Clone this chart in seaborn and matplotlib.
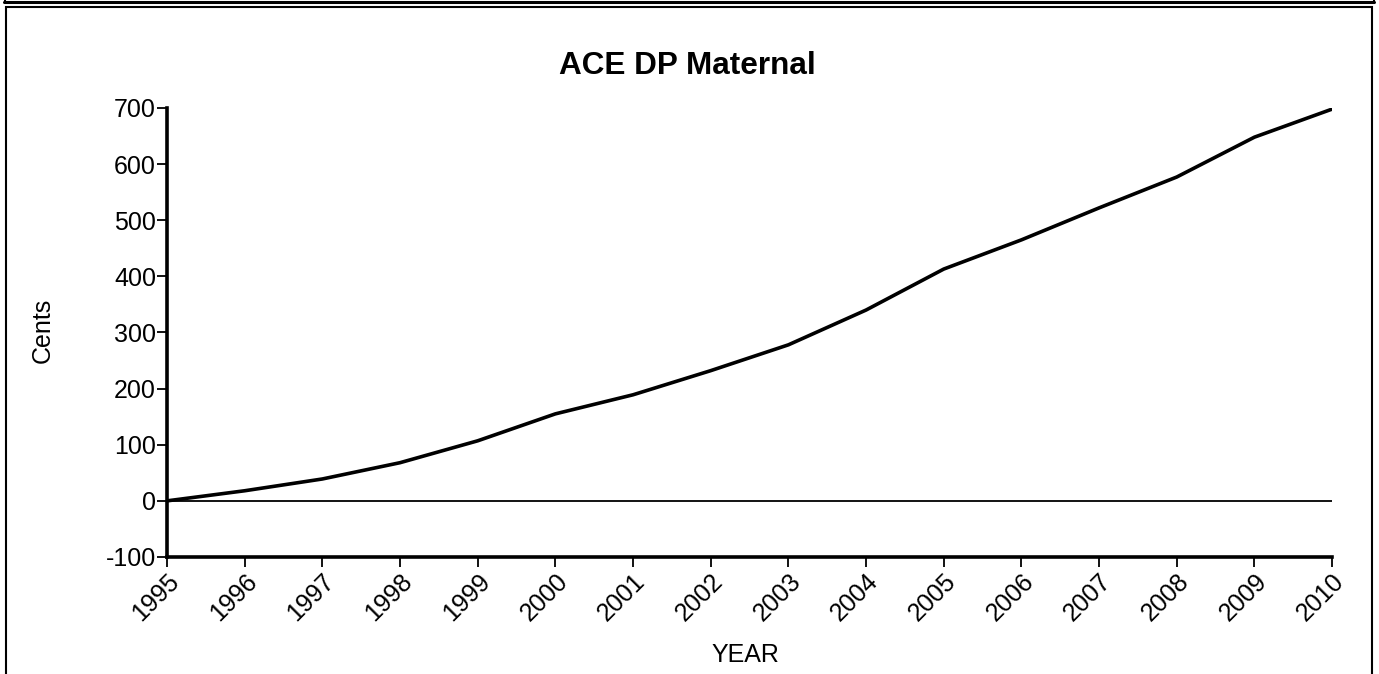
import pandas as pd
import matplotlib.pyplot as plt
import seaborn as sns
from matplotlib.patches import Rectangle
from matplotlib.lines import Line2D

# Данные
years = [1995, 1996, 1997, 1998, 1999, 2000, 2001, 2002,
         2003, 2004, 2005, 2006, 2007, 2008, 2009, 2010]
cents = [0, 18, 39, 68, 107, 155, 189, 232,
         278, 340, 413, 465, 522, 577, 648, 698]
y_ticks = [-100, 0, 100, 200, 300, 400, 500, 600, 700]

data = pd.DataFrame({'YEAR': years, 'Cents': cents})

sns.set_style("ticks")
plt.rcParams['font.family'] = ['Liberation Sans', 'DejaVu Sans']
plt.rcParams['text.color'] = 'black'
plt.rcParams['xtick.color'] = 'black'
plt.rcParams['ytick.color'] = 'black'
plt.rcParams['axes.labelcolor'] = 'black'

fig = plt.figure(figsize=(13.79, 6.74), dpi=100)
ax = fig.add_axes([0.1211, 0.1736, 0.966 - 0.1211, 0.8398 - 0.1736])

ax.axhline(0, color='black', linewidth=1.3, zorder=1)
sns.lineplot(data=data, x='YEAR', y='Cents', color='black', linewidth=2.6, ax=ax, zorder=3)

ax.set_xlim(1995, 2010)
ax.set_ylim(-100, 700)
ax.set_xticks(years)
ax.set_xticklabels([str(y) for y in years], rotation=45, ha='right',
                   rotation_mode='anchor', fontsize=18)
ax.set_yticks(y_ticks)
ax.set_yticklabels([str(v) for v in y_ticks], fontsize=18)
ax.tick_params(axis='both', direction='out', length=7, width=1.3, pad=1)
ax.tick_params(axis='x', pad=2)

for s in ['top', 'right']:
    ax.spines[s].set_visible(False)
for s in ['left', 'bottom']:
    ax.spines[s].set_linewidth(2.6)
    ax.spines[s].set_color('black')

ax.set_xlabel('')
ax.set_ylabel('')
fig.text(0.4982, 0.902, 'ACE DP Maternal', fontsize=22.7, fontweight='bold',
         ha='center', va='center')
fig.text(0.031, 0.51, 'Cents', fontsize=18, rotation=90, ha='center', va='center')
fig.text(0.5405, 0.028, 'YEAR', fontsize=18, ha='center', va='center')

# рамки
W, H = 1379, 674
def fx(px):
    return px / W
def fy(py):
    return 1 - py / H

fig.add_artist(Line2D([fx(4), fx(1374)], [fy(2), fy(2)], transform=fig.transFigure,
                      color='black', linewidth=2.2))
fig.add_artist(Line2D([fx(4.5), fx(4.5)], [fy(-5), fy(2)], transform=fig.transFigure,
                      color='black', linewidth=1.5))
fig.add_artist(Line2D([fx(1373.5), fx(1373.5)], [fy(-5), fy(2)], transform=fig.transFigure,
                      color='black', linewidth=1.5))
fig.add_artist(Rectangle((fx(6), fy(690)), fx(1372) - fx(6), fy(6.5) - fy(690),
                         transform=fig.transFigure, fill=False, edgecolor='black',
                         linewidth=1.5))

fig.savefig('out.png', dpi=100)
